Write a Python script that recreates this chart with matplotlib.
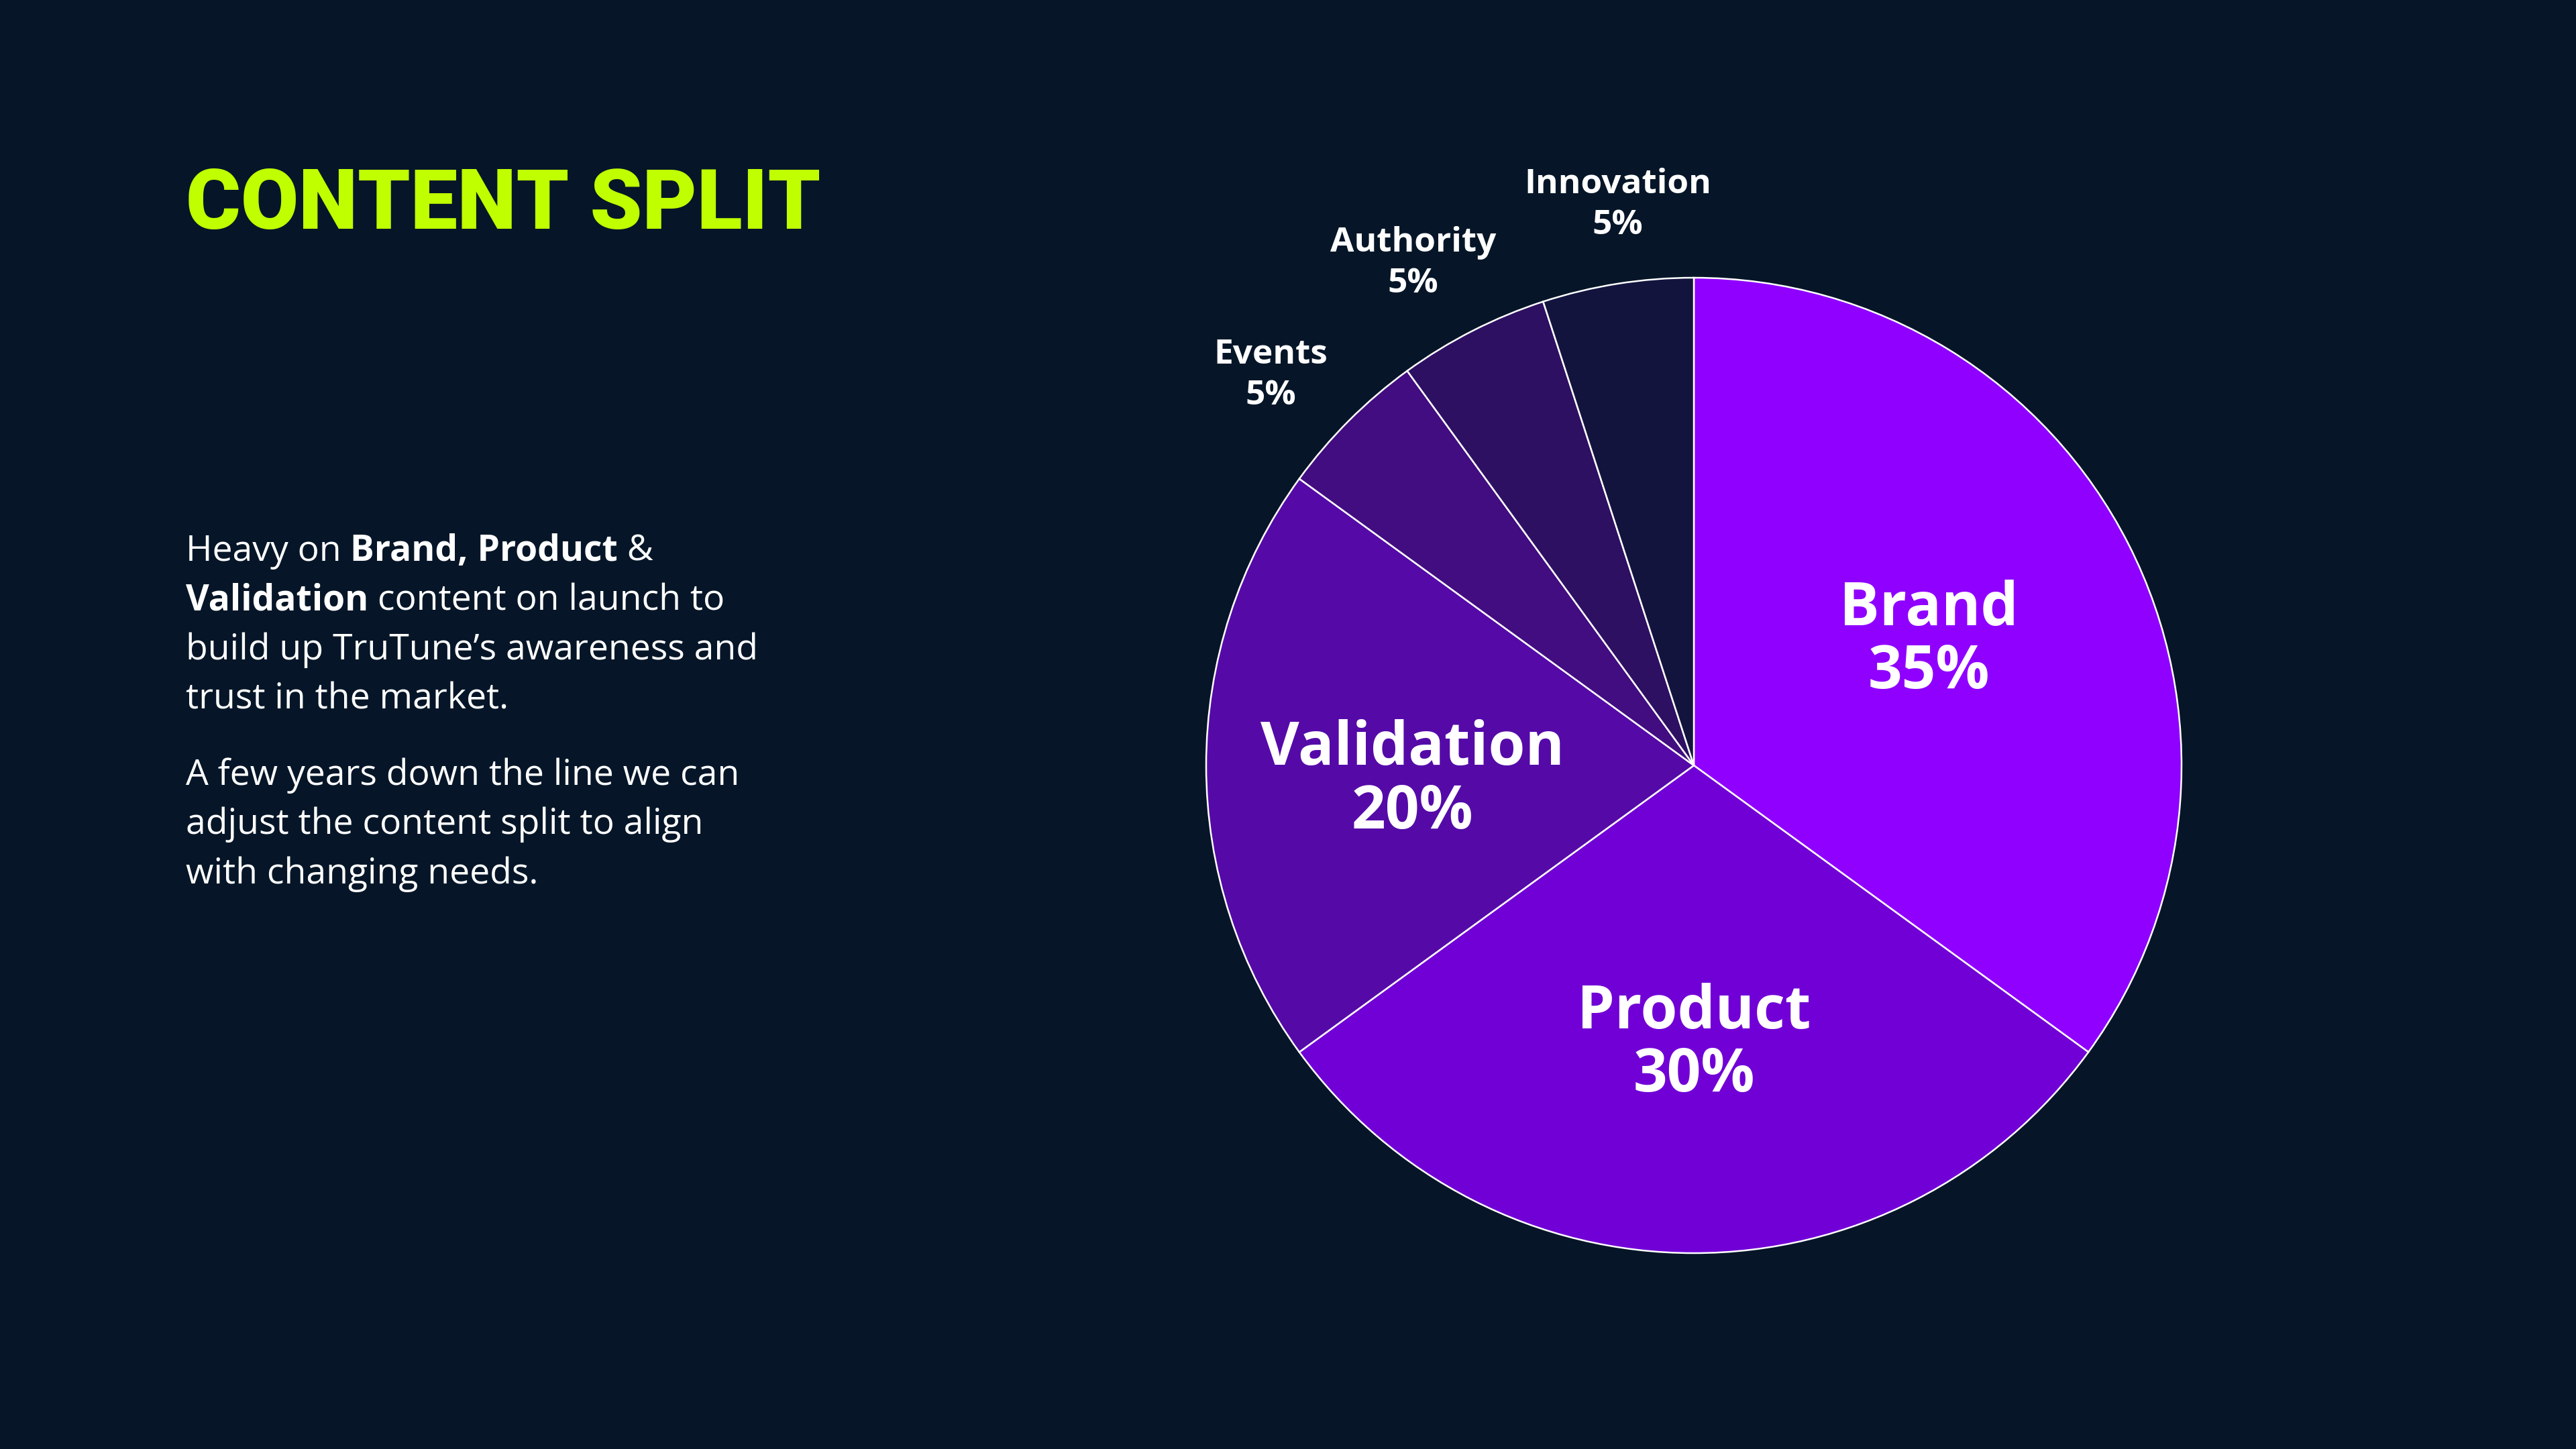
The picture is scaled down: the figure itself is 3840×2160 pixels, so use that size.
import matplotlib
matplotlib.use("Agg")
import matplotlib.pyplot as plt
import numpy as np

# ---- data ----
categories = ["Brand", "Product", "Validation", "Events", "Authority", "Innovation"]
shares = [35, 30, 20, 5, 5, 5]
slice_colors = ["#8F00FF", "#7100D6", "#550AA8", "#420D80", "#2E1063", "#13143E"]
inner_labels = {"Brand", "Product", "Validation"}

title = "CONTENT SPLIT"
para1 = [[("Heavy on ", False), ("Brand, Product", True), (" &", False)],
         [("Validation", True), (" content on launch to", False)],
         [("build up TruTune\u2019s awareness and", False)],
         [("trust in the market.", False)]]
para2 = [[("A few years down the line we can", False)],
         [("adjust the content split to align", False)],
         [("with changing needs.", False)]]

BG = "#061628"
W, H = 3840, 2160
DPI = 100
fig = plt.figure(figsize=(W / DPI, H / DPI), dpi=DPI, facecolor=BG)

# ---- pie ----
cx, cy, R = 2525, 1141, 727
lim = 1.3
S = 2 * lim * R
ax = fig.add_axes([(cx - S / 2) / W, (H - cy - S / 2) / H, S / W, S / H])
ax.set_facecolor(BG)
ax.axis("off")

wedges, _ = ax.pie(shares, colors=slice_colors, startangle=90, counterclock=False,
                   radius=1.0, center=(0, 0),
                   wedgeprops=dict(edgecolor="white", linewidth=1.8))
ax.set_xlim(-lim, lim)
ax.set_ylim(-lim, lim)
ax.set_aspect("equal")

body_font = ["Open Sans", "DejaVu Sans"]
# small label placement nudges (styling only)
outer_nudge = {"Innovation": -1.4, "Authority": 2.2, "Events": 2.3}
xy_nudge = {"Brand": (-0.017, 0.0), "Product": (0.0, -0.012),
            "Validation": (-0.017, -0.032), "Innovation": (0.0, -0.02)}
for w, cat, val in zip(wedges, categories, shares):
    mid_deg = (w.theta1 + w.theta2) / 2
    ndx, ndy = xy_nudge.get(cat, (0.0, 0.0))
    if cat in inner_labels:
        mid = np.deg2rad(mid_deg)
        d = 0.56
        x, y = d * np.cos(mid) + ndx, d * np.sin(mid) + ndy
        ax.text(x, y + 0.065, cat, ha="center", va="center", color="white",
                fontsize=64, fontweight="bold", family=body_font)
        ax.text(x, y - 0.065, f"{val}%", ha="center", va="center", color="white",
                fontsize=64, fontweight="bold", family=body_font)
    else:
        mid = np.deg2rad(mid_deg + outer_nudge.get(cat, 0))
        d = 1.18
        x, y = d * np.cos(mid) + ndx, d * np.sin(mid) + ndy
        ax.text(x, y + 0.042, cat, ha="center", va="center", color="white",
                fontsize=37, fontweight="bold", family=body_font)
        ax.text(x, y - 0.042, f"{val}%", ha="center", va="center", color="white",
                fontsize=37, fontweight="bold", family=body_font)

# ---- title ----
fig.text(277 / W, 1 - 307 / H, title, ha="left", va="center", color="#BFFF00",
         fontsize=90, fontweight="black", family=["Roboto", "DejaVu Sans"])

# ---- paragraph with mixed weights ----
renderer = fig.canvas.get_renderer()
fs = 38.5
x0 = 277
def draw_lines(lines, y_start, step):
    for i, segs in enumerate(lines):
        y = y_start + i * step
        xpix = x0
        for txt, bold in segs:
            t = fig.text(xpix / W, 1 - y / H, txt, ha="left", va="center", color="white",
                         fontsize=fs, fontweight="bold" if bold else "normal",
                         family=body_font)
            bb = t.get_window_extent(renderer=renderer)
            xpix += bb.width

draw_lines(para1, 822, 73.5)
draw_lines(para2, 1156, 73.5)

fig.savefig("out.png", dpi=DPI, facecolor=BG)
